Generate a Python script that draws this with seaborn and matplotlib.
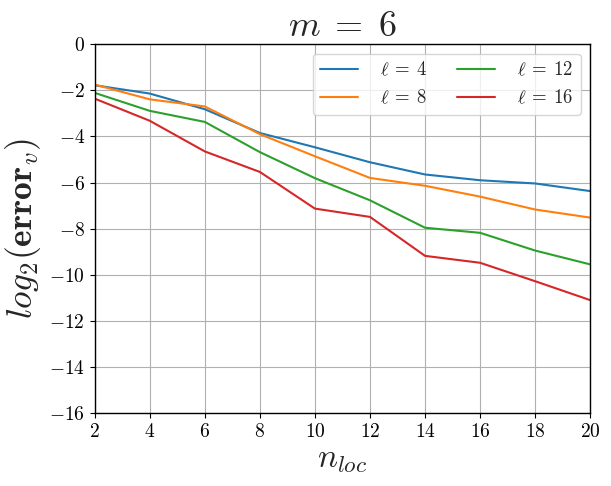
import numpy as np
import pandas as pd
import seaborn as sns
import matplotlib
matplotlib.use("Agg")
import matplotlib.pyplot as plt

# --------------------------------------------------
# DATA
# --------------------------------------------------
n_loc = [2, 4, 6, 8, 10, 12, 14, 16, 18, 20]
err_l4 = [-1.78, -2.14, -2.82, -3.85, -4.47, -5.12, -5.65, -5.90, -6.04, -6.37]
err_l8 = [-1.75, -2.39, -2.70, -3.90, -4.86, -5.80, -6.14, -6.61, -7.17, -7.52]
err_l12 = [-2.11, -2.89, -3.37, -4.68, -5.81, -6.77, -7.96, -8.18, -8.95, -9.55]
err_l16 = [-2.36, -3.32, -4.65, -5.54, -7.13, -7.49, -9.18, -9.48, -10.28, -11.1]
labels = [r"$\ell \:=\: 4$", r"$\ell \:=\: 8$", r"$\ell \:=\: 12$", r"$\ell \:=\: 16$"]

df = pd.concat([
    pd.DataFrame({"n_loc": n_loc, "err": vals, "ell": lab})
    for vals, lab in zip([err_l4, err_l8, err_l12, err_l16], labels)
])

# --------------------------------------------------
# STYLE
# --------------------------------------------------
sns.set_style("ticks")
plt.rcParams["font.family"] = ["serif"]
plt.rcParams["font.serif"] = ["cmr10", "DejaVu Serif"]
plt.rcParams["mathtext.fontset"] = "cm"
plt.rcParams["axes.formatter.use_mathtext"] = True
plt.rcParams["axes.edgecolor"] = "black"
plt.rcParams["xtick.color"] = "black"
plt.rcParams["ytick.color"] = "black"

# --------------------------------------------------
# PLOT
# --------------------------------------------------
fig = plt.figure(figsize=(6.11, 4.86), dpi=100)
ax = fig.add_axes([0.155, 0.150, 0.811, 0.759])

sns.lineplot(data=df, x="n_loc", y="err", hue="ell", palette="tab10",
             linewidth=1.5, ax=ax)

ax.set_xlim(2, 20)
ax.set_ylim(-16, 0)
ax.set_xticks(range(2, 21, 2))
ax.set_yticks(range(-16, 1, 2))
ax.tick_params(labelsize=14, direction="out", length=3.5, width=0.8)
ax.grid(True, color="#b0b0b0", linewidth=0.8)
for s in ax.spines.values():
    s.set_visible(True)
    s.set_linewidth(1.0)

ax.set_title(r"$m \;=\; 6$", fontsize=26)
ax.set_xlabel(r"$n_{loc}$", fontsize=24)
ax.set_ylabel(r"$log_2(\mathbf{error}_v)$", fontsize=25.5)

ax.legend(title=None, ncol=2, fontsize=13.5, loc="upper right",
          handlelength=2.0, handletextpad=1.2, columnspacing=1.6)

fig.savefig("out.png", dpi=100)
